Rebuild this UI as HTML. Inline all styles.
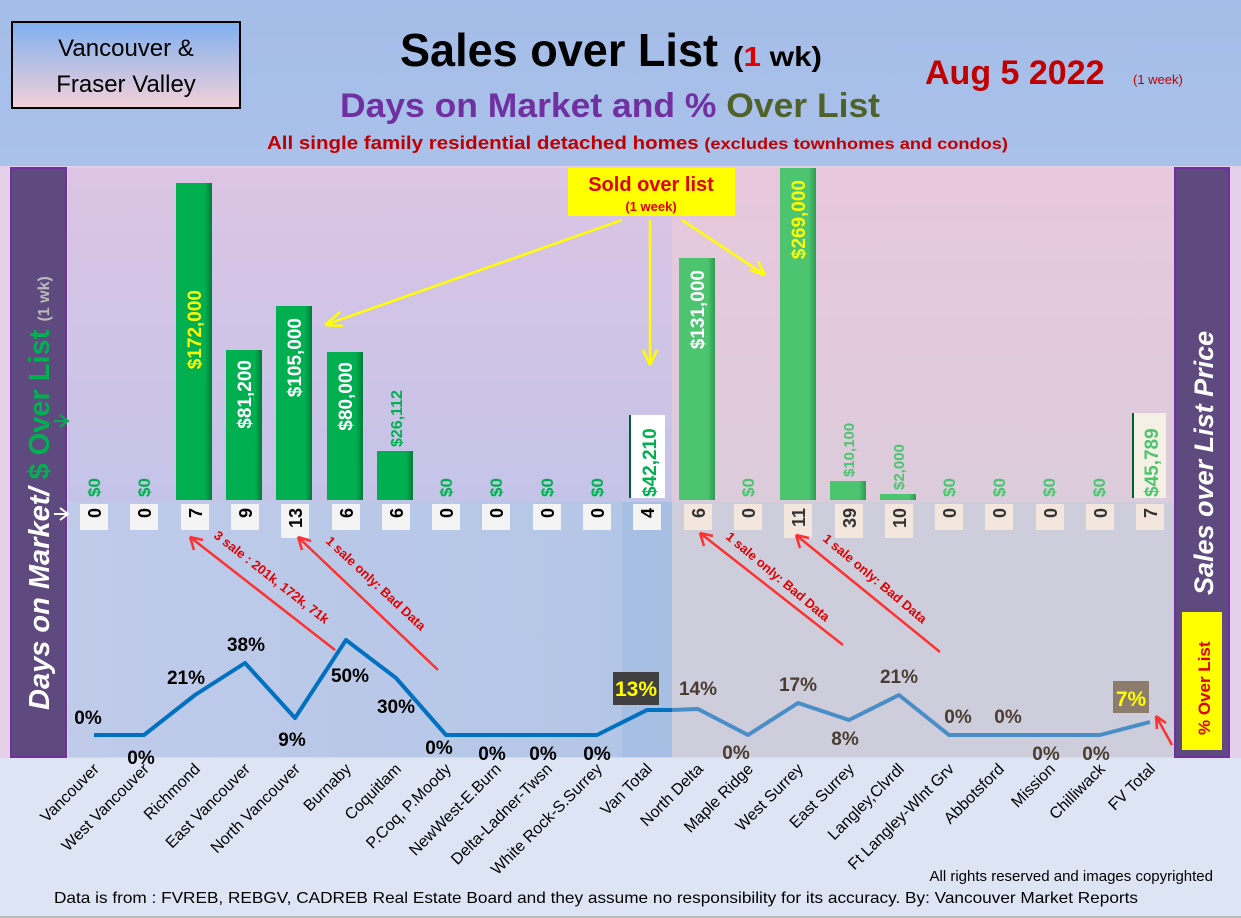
<!DOCTYPE html>
<html><head><meta charset="utf-8"><style>
html,body{margin:0;padding:0;background:#fff}
svg{display:block;font-family:"Liberation Sans",Arial,sans-serif}
</style></head><body>
<svg width="1241" height="918" viewBox="0 0 1241 918" xmlns="http://www.w3.org/2000/svg">
<defs>
<linearGradient id="hdr" x1="0" y1="0" x2="0" y2="1"><stop offset="0" stop-color="#a4bde8"/><stop offset="1" stop-color="#aac2ea"/></linearGradient>
<linearGradient id="tbox" x1="0" y1="0" x2="0" y2="1"><stop offset="0" stop-color="#7fb0f0"/><stop offset="1" stop-color="#f3d0d8"/></linearGradient>
<linearGradient id="upL" x1="0" y1="0" x2="0" y2="1"><stop offset="0" stop-color="#dcc4e4"/><stop offset="1" stop-color="#c4c4e8"/></linearGradient>
<linearGradient id="upR" x1="0" y1="0" x2="0" y2="1"><stop offset="0" stop-color="#e8c8dc"/><stop offset="1" stop-color="#dcccdc"/></linearGradient>
<linearGradient id="loL" x1="0" y1="0" x2="1" y2="0"><stop offset="0" stop-color="#c0cbea"/><stop offset="1" stop-color="#b4c6e6"/></linearGradient>
<linearGradient id="bar" x1="0" y1="0" x2="1" y2="0"><stop offset="0" stop-color="#00b050"/><stop offset="0.8" stop-color="#00b050"/><stop offset="1" stop-color="#007a38"/></linearGradient>
<linearGradient id="bar2" x1="0" y1="0" x2="1" y2="0"><stop offset="0" stop-color="#4cc470"/><stop offset="0.8" stop-color="#4cc470"/><stop offset="1" stop-color="#2e9a50"/></linearGradient>
</defs>
<rect width="1241" height="918" fill="#dde4f4"/>
<rect width="1241" height="166" fill="url(#hdr)"/>
<rect x="0" y="166" width="1241" height="592" fill="#e4d0e8"/>
<rect x="68" y="168" width="604" height="334" fill="url(#upL)"/>
<rect x="672" y="168" width="502" height="334" fill="url(#upR)"/>
<rect x="68" y="502" width="554" height="255" fill="url(#loL)"/>
<rect x="622" y="502" width="50" height="255" fill="#a8bfe4"/>
<rect x="672" y="502" width="502" height="255" fill="#cdcddc"/>
<rect x="12" y="22" width="228" height="86" fill="url(#tbox)" stroke="#000" stroke-width="2"/>
<text x="126" y="56" font-size="24" text-anchor="middle">Vancouver &amp;</text>
<text x="126" y="92" font-size="24" text-anchor="middle">Fraser Valley</text>
<text x="400" y="66" font-size="46" font-weight="bold" textLength="318" lengthAdjust="spacingAndGlyphs">Sales over List</text>
<text x="733" y="66" font-size="28" font-weight="bold" textLength="89" lengthAdjust="spacingAndGlyphs">(<tspan fill="#e00000">1</tspan> wk)</text>
<text x="340" y="117" font-size="34" font-weight="bold" fill="#7030a0" textLength="540" lengthAdjust="spacingAndGlyphs">Days on Market and % <tspan fill="#4f6228">Over List</tspan></text>
<text x="267" y="149" font-size="18" font-weight="bold" fill="#c00000" textLength="741" lengthAdjust="spacingAndGlyphs">All single family residential detached homes <tspan font-size="16">(excludes townhomes and condos)</tspan></text>
<text x="925" y="84" font-size="34" font-weight="bold" fill="#c00000">Aug 5  2022</text>
<text x="1133" y="84" font-size="13" fill="#c00000">(1 week)</text>
<rect x="11" y="168" width="55" height="589" fill="#5e4a7e" stroke="#7030a0" stroke-width="2"/>
<rect x="1175" y="168" width="54" height="589" fill="#5e4a7e" stroke="#7030a0" stroke-width="2"/>
<text transform="translate(49,710) rotate(-90)" font-size="29" font-weight="bold" font-style="italic" fill="#fff">Days on Market/ <tspan fill="#00b050" font-style="normal">$ Over List</tspan> <tspan font-size="16" fill="#bbb" font-style="normal">(1 wk)</tspan></text>
<text transform="translate(1213,595) rotate(-90)" font-size="27" font-weight="bold" font-style="italic" fill="#fff">Sales over List Price</text>
<rect x="1182" y="612" width="40" height="138" fill="#ffff00"/>
<text transform="translate(1210,735) rotate(-90)" font-size="17" font-weight="bold" fill="#e00000">% Over List</text>
<g stroke="#00b050" stroke-width="2" fill="none"><path d="M54 421 H68 M60 415 L68 421 L60 427"/></g>
<g stroke="#fff" stroke-width="2" fill="none"><path d="M54 514 H68 M60 508 L68 514 L60 520"/></g>
<rect x="176" y="183" width="36" height="317" fill="url(#bar)"/>
<rect x="226" y="350" width="36" height="150" fill="url(#bar)"/>
<rect x="276" y="306" width="36" height="194" fill="url(#bar)"/>
<rect x="327" y="352" width="36" height="148" fill="url(#bar)"/>
<rect x="377" y="451" width="36" height="49" fill="url(#bar)"/>
<rect x="679" y="258" width="36" height="242" fill="url(#bar2)"/>
<rect x="780" y="168" width="36" height="332" fill="url(#bar2)"/>
<rect x="830" y="481" width="36" height="19" fill="url(#bar2)"/>
<rect x="880" y="494" width="36" height="6" fill="url(#bar2)"/>
<g font-size="19" font-weight="bold" fill="#fff" text-anchor="end">
<text transform="translate(201,290) rotate(-90)" fill="#ffff00">$172,000</text>
<text transform="translate(251,360) rotate(-90)">$81,200</text>
<text transform="translate(301,318) rotate(-90)">$105,000</text>
<text transform="translate(352,362) rotate(-90)">$80,000</text>
<text transform="translate(704,270) rotate(-90)">$131,000</text>
<text transform="translate(805,180) rotate(-90)" fill="#ffff00">$269,000</text>
</g>
<g font-size="17" font-weight="bold" fill="#00b050" text-anchor="start">
<text transform="translate(100,497) rotate(-90)">$0</text>
<text transform="translate(150,497) rotate(-90)">$0</text>
<text transform="translate(402,447) rotate(-90)" font-size="16">$26,112</text>
<text transform="translate(452,497) rotate(-90)">$0</text>
<text transform="translate(502,497) rotate(-90)">$0</text>
<text transform="translate(553,497) rotate(-90)">$0</text>
<text transform="translate(603,497) rotate(-90)">$0</text>
<text transform="translate(754,497) rotate(-90)" fill="#4cc470">$0</text>
<text transform="translate(854,477) rotate(-90)" fill="#4cc470" font-size="15">$10,100</text>
<text transform="translate(904,490) rotate(-90)" fill="#4cc470" font-size="15">$2,000</text>
<text transform="translate(955,497) rotate(-90)" fill="#4cc470">$0</text>
<text transform="translate(1005,497) rotate(-90)" fill="#4cc470">$0</text>
<text transform="translate(1055,497) rotate(-90)" fill="#4cc470">$0</text>
<text transform="translate(1105,497) rotate(-90)" fill="#4cc470">$0</text>
</g>
<rect x="629" y="415" width="36" height="83" fill="#fff"/><rect x="629" y="415" width="2" height="83" fill="#006030"/>
<text transform="translate(656,497) rotate(-90)" font-size="19" font-weight="bold" fill="#00b050">$42,210</text>
<rect x="1132" y="413" width="34" height="85" fill="#f4f0e4"/><rect x="1132" y="413" width="2" height="85" fill="#006030"/>
<text transform="translate(1158,497) rotate(-90)" font-size="19" font-weight="bold" fill="#4cc470">$45,789</text>
<g font-size="18" font-weight="bold" fill="#000" text-anchor="end">
<rect x="80" y="504" width="28" height="26" fill="#f4f4f4"/><text transform="translate(101,508) rotate(-90)">0</text>
<rect x="130" y="504" width="28" height="26" fill="#f4f4f4"/><text transform="translate(151,508) rotate(-90)">0</text>
<rect x="181" y="504" width="28" height="26" fill="#f4f4f4"/><text transform="translate(202,508) rotate(-90)">7</text>
<rect x="231" y="504" width="28" height="26" fill="#f4f4f4"/><text transform="translate(252,508) rotate(-90)">9</text>
<rect x="281" y="504" width="28" height="34" fill="#f4f4f4"/><text transform="translate(302,508) rotate(-90)">13</text>
<rect x="332" y="504" width="28" height="26" fill="#f4f4f4"/><text transform="translate(353,508) rotate(-90)">6</text>
<rect x="382" y="504" width="28" height="26" fill="#f4f4f4"/><text transform="translate(403,508) rotate(-90)">6</text>
<rect x="432" y="504" width="28" height="26" fill="#f4f4f4"/><text transform="translate(453,508) rotate(-90)">0</text>
<rect x="482" y="504" width="28" height="26" fill="#f4f4f4"/><text transform="translate(503,508) rotate(-90)">0</text>
<rect x="533" y="504" width="28" height="26" fill="#f4f4f4"/><text transform="translate(554,508) rotate(-90)">0</text>
<rect x="583" y="504" width="28" height="26" fill="#f4f4f4"/><text transform="translate(604,508) rotate(-90)">0</text>
<rect x="633" y="504" width="28" height="26" fill="#f4f4f4"/><text transform="translate(654,508) rotate(-90)">4</text>
<rect x="684" y="504" width="28" height="26" fill="#f3e6dc"/><text transform="translate(705,508) rotate(-90)" fill="#333">6</text>
<rect x="734" y="504" width="28" height="26" fill="#f3e6dc"/><text transform="translate(755,508) rotate(-90)" fill="#333">0</text>
<rect x="784" y="504" width="28" height="34" fill="#f3e6dc"/><text transform="translate(805,508) rotate(-90)" fill="#333">11</text>
<rect x="835" y="504" width="28" height="34" fill="#f3e6dc"/><text transform="translate(856,508) rotate(-90)" fill="#333">39</text>
<rect x="885" y="504" width="28" height="34" fill="#f3e6dc"/><text transform="translate(906,508) rotate(-90)" fill="#333">10</text>
<rect x="935" y="504" width="28" height="26" fill="#f3e6dc"/><text transform="translate(956,508) rotate(-90)" fill="#333">0</text>
<rect x="985" y="504" width="28" height="26" fill="#f3e6dc"/><text transform="translate(1006,508) rotate(-90)" fill="#333">0</text>
<rect x="1036" y="504" width="28" height="26" fill="#f3e6dc"/><text transform="translate(1057,508) rotate(-90)" fill="#333">0</text>
<rect x="1086" y="504" width="28" height="26" fill="#f3e6dc"/><text transform="translate(1107,508) rotate(-90)" fill="#333">0</text>
<rect x="1136" y="504" width="28" height="26" fill="#f3e6dc"/><text transform="translate(1157,508) rotate(-90)" fill="#333">7</text>
</g>
<rect x="568" y="168" width="167" height="48" fill="#ffff00"/>
<text x="651" y="191" font-size="20" font-weight="bold" fill="#e00000" text-anchor="middle">Sold over list</text>
<text x="651" y="211" font-size="13" font-weight="bold" fill="#e00000" text-anchor="middle">(1 week)</text>
<g stroke="#ffff00" stroke-width="2.5" fill="none">
<path d="M622 220 L325 325 M325 325 L340 312 M325 325 L343 326"/>
<path d="M650 220 L650 365 M650 365 L643 350 M650 365 L657 350"/>
<path d="M682 220 L765 275 M765 275 L750 270 M765 275 L758 261"/>
</g>
<g stroke="#ff3030" stroke-width="2.5" fill="none">
<path d="M335 650 L190 537 M190 537 L194 550 M190 537 L203 540"/>
<path d="M438 670 L298 537 M298 537 L302 550 M298 537 L311 541"/>
<path d="M843 645 L700 533 M700 533 L704 546 M700 533 L713 536"/>
<path d="M940 652 L796 535 M796 535 L800 548 M796 535 L809 538"/>
<path d="M1172 745 L1156 716 M1156 716 L1157 729 M1156 716 L1166 723"/>
</g>
<g font-size="13" font-weight="bold" fill="#e00000">
<text transform="translate(213,537) rotate(38)">3 sale : 201k, 172k, 71k</text>
<text transform="translate(325,542) rotate(43)">1 sale only: Bad Data</text>
<text transform="translate(725,538) rotate(40)">1 sale only: Bad Data</text>
<text transform="translate(822,540) rotate(40)">1 sale only: Bad Data</text>
</g>
<polyline fill="none" stroke="#0070c0" stroke-width="4" stroke-linejoin="round" points="94,735 144,735 195,695 245,663 295,718 346,640 396,678 446,735 497,735 547,735 597,735 647,710 672,710"/>
<polyline fill="none" stroke="#4a8ec8" stroke-width="4" stroke-linejoin="round" points="672,710 698,709 748,735 798,703 849,720 899,695 949,735 1000,735 1050,735 1100,735 1150,722"/>
<rect x="613" y="672" width="46" height="33" fill="#404040"/>
<text x="636" y="696" font-size="21" font-weight="bold" fill="#ffff00" text-anchor="middle">13%</text>
<rect x="1113" y="681" width="36" height="32" fill="#8c7c6c"/>
<text x="1131" y="706" font-size="21" font-weight="bold" fill="#ffff00" text-anchor="middle">7%</text>
<g font-size="19" font-weight="bold" fill="#000" text-anchor="middle">
<text x="88" y="724">0%</text><text x="141" y="764">0%</text><text x="186" y="684">21%</text><text x="246" y="651">38%</text><text x="292" y="746">9%</text><text x="350" y="682">50%</text><text x="396" y="713">30%</text><text x="439" y="754">0%</text><text x="492" y="760">0%</text><text x="543" y="760">0%</text><text x="597" y="760">0%</text>
</g>
<g font-size="19" font-weight="bold" fill="#4a3c30" text-anchor="middle">
<text x="698" y="695">14%</text><text x="736" y="759">0%</text><text x="798" y="691">17%</text><text x="845" y="745">8%</text><text x="899" y="683">21%</text><text x="958" y="723">0%</text><text x="1008" y="723">0%</text><text x="1046" y="760">0%</text><text x="1096" y="760">0%</text>
</g>
<g font-size="16" fill="#000" text-anchor="end">
<text transform="translate(100,770) rotate(-45)">Vancouver</text>
<text transform="translate(150,770) rotate(-45)">West Vancouver</text>
<text transform="translate(201,770) rotate(-45)">Richmond</text>
<text transform="translate(251,770) rotate(-45)">East Vancouver</text>
<text transform="translate(301,770) rotate(-45)">North Vancouver</text>
<text transform="translate(352,770) rotate(-45)">Burnaby</text>
<text transform="translate(402,770) rotate(-45)">Coquitlam</text>
<text transform="translate(452,770) rotate(-45)">P.Coq, P.Moody</text>
<text transform="translate(502,770) rotate(-45)">NewWest-E.Burn</text>
<text transform="translate(553,770) rotate(-45)">Delta-Ladner-Twsn</text>
<text transform="translate(603,770) rotate(-45)">White Rock-S.Surrey</text>
<text transform="translate(653,770) rotate(-45)">Van Total</text>
<text transform="translate(704,770) rotate(-45)">North Delta</text>
<text transform="translate(754,770) rotate(-45)">Maple Ridge</text>
<text transform="translate(804,770) rotate(-45)">West Surrey</text>
<text transform="translate(855,770) rotate(-45)">East Surrey</text>
<text transform="translate(905,770) rotate(-45)">Langley,Clvrdl</text>
<text transform="translate(955,770) rotate(-45)">Ft Langley-Wlnt Grv</text>
<text transform="translate(1005,770) rotate(-45)">Abbotsford</text>
<text transform="translate(1056,770) rotate(-45)">Mission</text>
<text transform="translate(1106,770) rotate(-45)">Chilliwack</text>
<text transform="translate(1156,770) rotate(-45)">FV Total</text>
</g>
<text x="1213" y="881" font-size="15" text-anchor="end">All rights reserved and  images copyrighted</text>
<text x="54" y="903" font-size="16" textLength="1084" lengthAdjust="spacingAndGlyphs">Data is from : FVREB, REBGV, CADREB Real Estate Board and they assume no responsibility for its accuracy. By: Vancouver Market Reports</text>
<rect x="0" y="916" width="1241" height="2" fill="#bbb"/>
</svg>
</body></html>
